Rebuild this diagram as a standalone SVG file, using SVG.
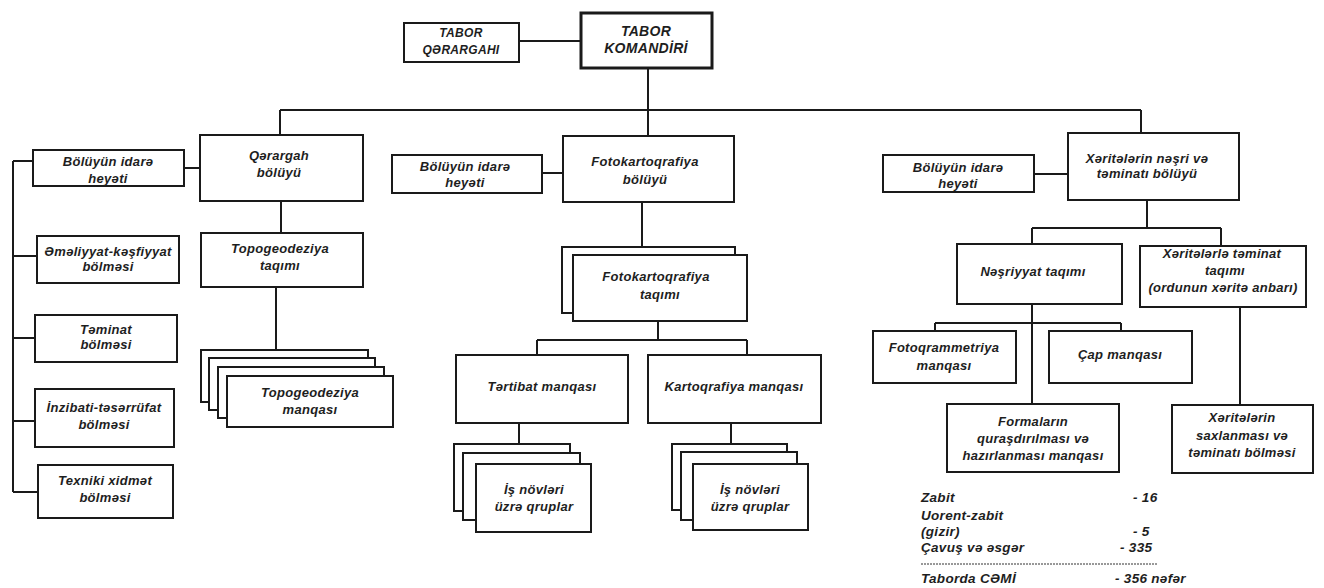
<svg xmlns="http://www.w3.org/2000/svg" width="1324" height="588" viewBox="0 0 1324 588">
<style>
.b{fill:#fff;stroke:#1a1a1a;stroke-width:2}
.bt{fill:#fff;stroke:#1a1a1a;stroke-width:3}
.c{stroke:#1a1a1a;stroke-width:2;fill:none}
text{font-family:"Liberation Sans",Arial,sans-serif;font-weight:bold;font-style:italic;font-size:13px;fill:#1e1e1e;text-anchor:middle;letter-spacing:0.3px}
.s{text-anchor:start;font-size:13.5px}
.u{font-size:12px}
.k{font-size:14px}
</style>
<rect width="1324" height="588" fill="#fff"/>
<g id="connectors">
<path class="c" d="M519 41H581M648 68V110M280 110H1141M280 110V135M648 110V136M1141 110V133"/>
<path class="c" d="M184 168H200M13 161V492M13 161H33M13 256H37M13 338H35M13 421H35M13 492H38"/>
<path class="c" d="M281 201V233M276 287V350"/>
<path class="c" d="M542 173H563M642 202V247M658 321V340M537 340H747M537 340V355M747 340V355M519 423V444M731 423V444"/>
<path class="c" d="M1034 174H1068M1147 200V228M1032 228H1221M1032 228V244M1221 228V246M1032 304V404M935 323H1121M935 323V331M1121 323V331M1240 307V405"/>
</g>
<g id="tabor-qerargahi"><rect class="b" x="404" y="23" width="115" height="39"/><text class="u" x="461" y="37">TABOR</text><text class="u" x="461" y="54">QƏRARGAHI</text></g>
<g id="tabor-komandiri"><rect class="bt" x="581" y="13" width="131" height="55"/><text class="k" x="646" y="36">TABOR</text><text class="k" x="646" y="53">KOMANDİRİ</text></g>
<g id="idare-1"><rect class="b" x="33" y="150" width="151" height="36"/><text x="108" y="166">Bölüyün idarə</text><text x="108" y="183">heyəti</text></g>
<g id="qerargah-boluyu"><rect class="b" x="200" y="135" width="163" height="66"/><text x="279" y="160">Qərargah</text><text x="279" y="177">bölüyü</text></g>
<g id="emeliyyat"><rect class="b" x="37" y="236" width="142" height="47"/><text x="108" y="256">Əməliyyat-kəşfiyyat</text><text x="108" y="271">bölməsi</text></g>
<g id="teminat"><rect class="b" x="35" y="315" width="142" height="47"/><text x="106" y="334">Təminat</text><text x="106" y="349">bölməsi</text></g>
<g id="inzibati"><rect class="b" x="35" y="389" width="139" height="58"/><text x="104" y="412">İnzibati-təsərrüfat</text><text x="104" y="429">bölməsi</text></g>
<g id="texniki"><rect class="b" x="38" y="465" width="135" height="53"/><text x="105" y="485">Texniki xidmət</text><text x="105" y="502">bölməsi</text></g>
<g id="topo-taqimi"><rect class="b" x="201" y="233" width="162" height="54"/><text x="280" y="253">Topogeodeziya</text><text x="280" y="270">taqımı</text></g>
<g id="topo-manqasi"><rect class="b" x="201" y="350" width="167" height="52"/><rect class="b" x="209" y="358" width="166" height="52"/><rect class="b" x="218" y="367" width="166" height="51"/><rect class="b" x="227" y="376" width="166" height="51"/><text x="310" y="397">Topogeodeziya</text><text x="310" y="414">manqası</text></g>
<g id="idare-2"><rect class="b" x="392" y="155" width="150" height="38"/><text x="465" y="171">Bölüyün idarə</text><text x="465" y="187">heyəti</text></g>
<g id="foto-boluyu"><rect class="b" x="563" y="136" width="171" height="66"/><text x="645" y="166">Fotokartoqrafiya</text><text x="645" y="184">bölüyü</text></g>
<g id="foto-taqimi"><rect class="b" x="562" y="247" width="173" height="66"/><rect class="b" x="573" y="255" width="174" height="66"/><text x="656" y="281">Fotokartoqrafiya</text><text x="660" y="299">taqımı</text></g>
<g id="tertibat"><rect class="b" x="456" y="355" width="172" height="68"/><text x="542" y="391">Tərtibat manqası</text></g>
<g id="kartoqrafiya"><rect class="b" x="648" y="355" width="173" height="68"/><text x="734" y="391">Kartoqrafiya manqası</text></g>
<g id="is-novleri-1"><rect class="b" x="454" y="444" width="116" height="67"/><rect class="b" x="463" y="453" width="117" height="67"/><rect class="b" x="476" y="464" width="115" height="68"/><text x="534" y="494">İş növləri</text><text x="534" y="511">üzrə qruplar</text></g>
<g id="is-novleri-2"><rect class="b" x="672" y="444" width="115" height="66"/><rect class="b" x="681" y="452" width="116" height="68"/><rect class="b" x="693" y="464" width="115" height="66"/><text x="750" y="494">İş növləri</text><text x="750" y="511">üzrə qruplar</text></g>
<g id="idare-3"><rect class="b" x="883" y="155" width="151" height="37"/><text x="958" y="172">Bölüyün idarə</text><text x="958" y="188">heyəti</text></g>
<g id="xeriteler-boluyu"><rect class="b" x="1068" y="133" width="171" height="67"/><text x="1147" y="163">Xəritələrin nəşri və</text><text x="1147" y="178">təminatı bölüyü</text></g>
<g id="nesriyyat"><rect class="b" x="957" y="244" width="165" height="60"/><text x="1033" y="276">Nəşriyyat taqımı</text></g>
<g id="teminat-taqimi"><rect class="b" x="1140" y="246" width="166" height="61"/><text x="1222" y="258">Xəritələrlə təminat</text><text x="1225" y="275">taqımı</text><text x="1223" y="292">(ordunun xəritə anbarı)</text></g>
<g id="fotoqrammetriya"><rect class="b" x="873" y="331" width="143" height="52"/><text x="944" y="352">Fotoqrammetriya</text><text x="944" y="370">manqası</text></g>
<g id="cap"><rect class="b" x="1049" y="331" width="143" height="52"/><text x="1120" y="359">Çap manqası</text></g>
<g id="formalar"><rect class="b" x="947" y="404" width="172" height="68"/><text x="1033" y="426">Formaların</text><text x="1033" y="443">quraşdırılması və</text><text x="1033" y="460">hazırlanması manqası</text></g>
<g id="saxlanma"><rect class="b" x="1172" y="405" width="141" height="68"/><text x="1242" y="422">Xəritələrin</text><text x="1242" y="440">saxlanması və</text><text x="1242" y="457">təminatı bölməsi</text></g>
<g id="stats">
<text class="s" x="921" y="502">Zabit</text><text class="s" x="1133" y="502">- 16</text>
<text class="s" x="921" y="520">Uorent-zabit</text>
<text class="s" x="921" y="536">(gizir)</text><text class="s" x="1133" y="536">- 5</text>
<text class="s" x="921" y="552">Çavuş və əsgər</text><text class="s" x="1120" y="552">- 335</text>
<line x1="921" y1="564" x2="1157" y2="564" stroke="#333" stroke-width="1" stroke-dasharray="2 1"/>
<text class="s" x="921" y="583">Taborda CƏMİ</text><text class="s" x="1115" y="583">- 356 nəfər</text>
</g>
</svg>
